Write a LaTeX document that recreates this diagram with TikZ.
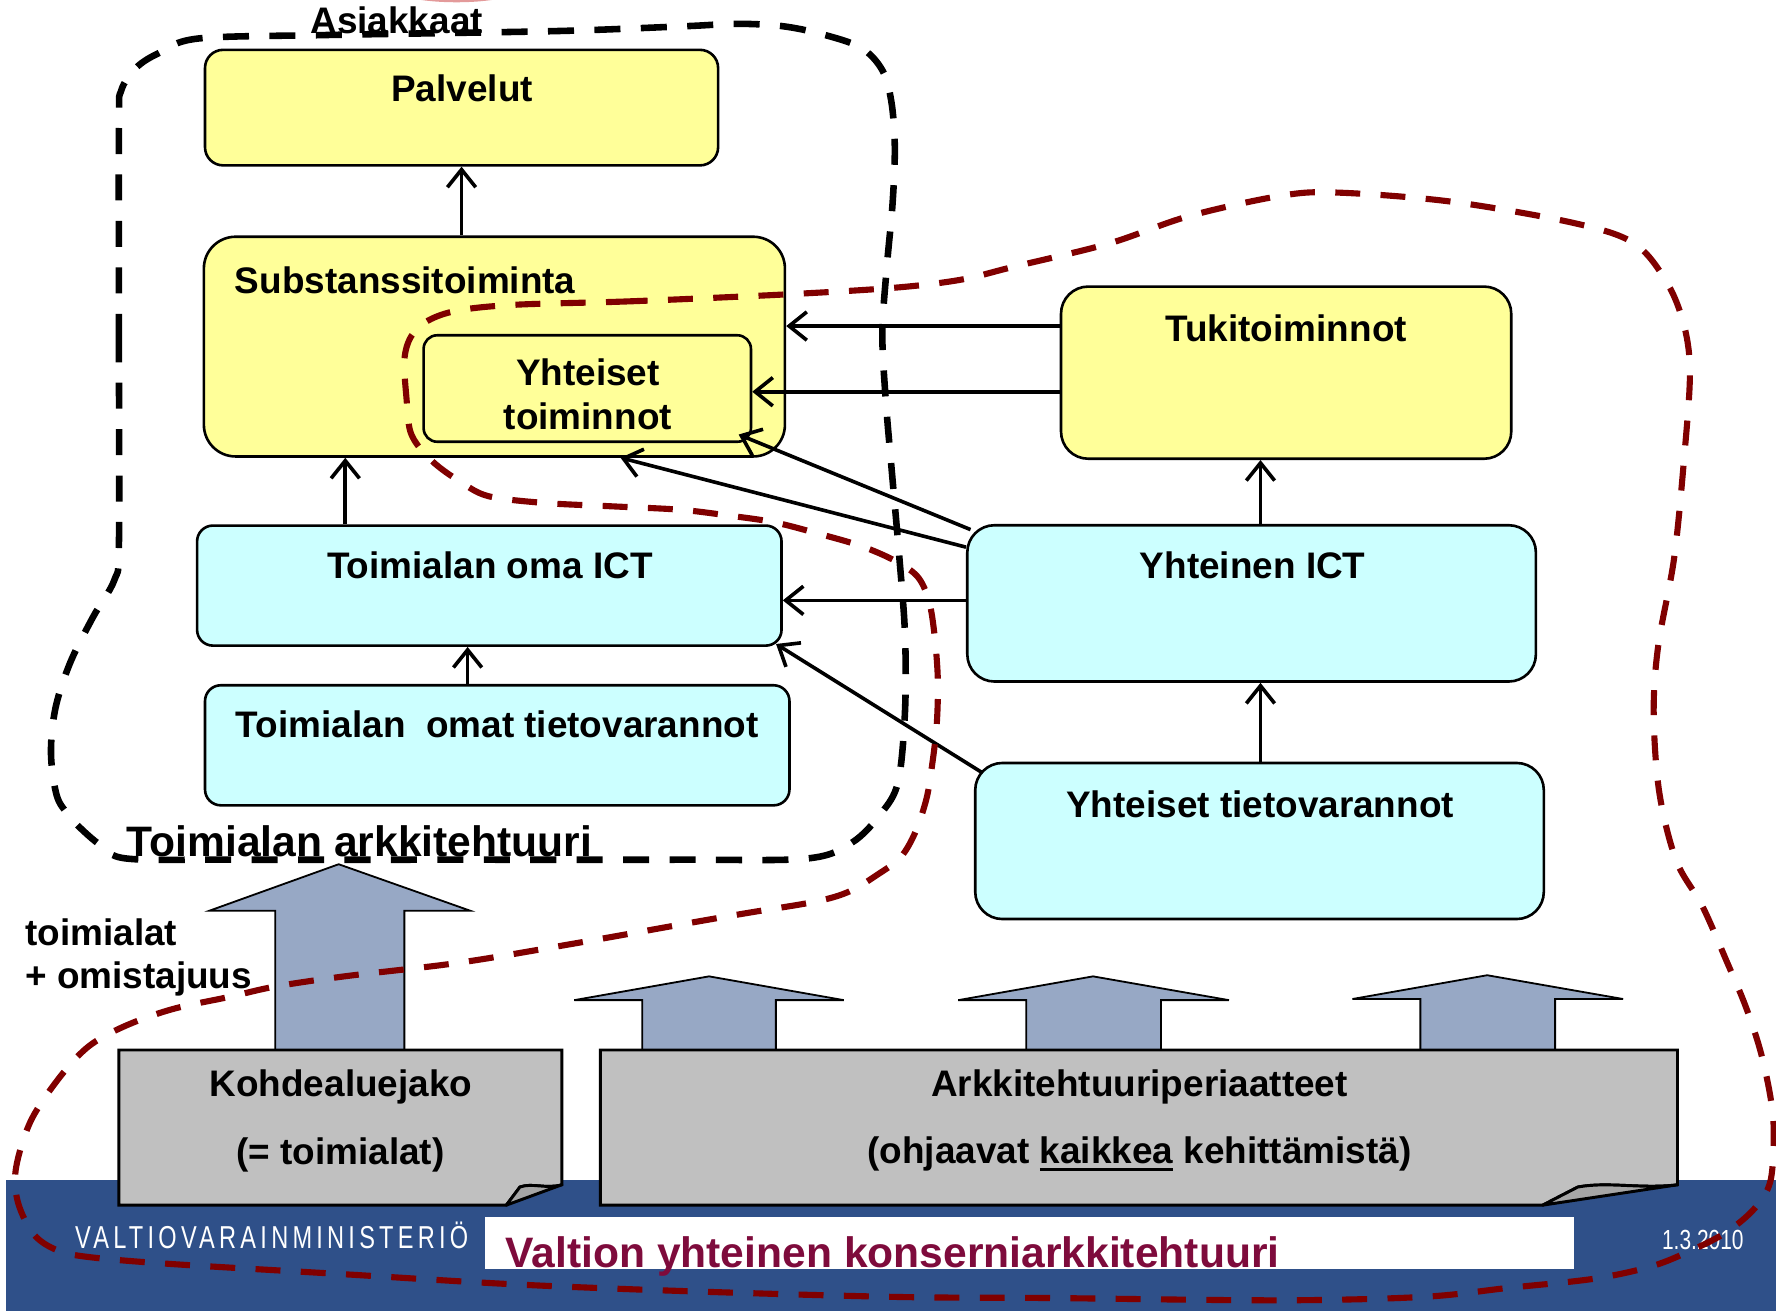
\documentclass[tikz,border=0pt]{standalone}
\usepackage{fontspec}
\usepackage{graphicx}
\setmainfont{Liberation Sans}
\usetikzlibrary{arrows.meta,calc}
\definecolor{yel}{HTML}{FFFF99}
\definecolor{cya}{HTML}{CCFFFF}
\definecolor{gry}{HTML}{C0C0C0}
\definecolor{foldgry}{HTML}{A6A6A6}
\definecolor{arrblue}{HTML}{97A8C5}
\definecolor{band}{HTML}{2F5089}
\definecolor{dred}{HTML}{800000}
\definecolor{titlered}{HTML}{7E0B3C}
\definecolor{blob}{HTML}{E39A9A}
\newcommand\ulthick[1]{\setbox0\hbox{#1}\rlap{\rule[-3.3pt]{\wd0}{1.2pt}}#1}
\tikzset{
  yelbox/.style={draw, line width=1.15pt, fill=yel, inner sep=0pt},
  cyabox/.style={draw, line width=1.15pt, fill=cya, inner sep=0pt},
  conn/.style={line width=1.6pt, -{Straight Barb[length=7.8pt, width=12.5pt]}},
  lbl/.style={font=\bfseries\fontsize{16.3}{19.6}\selectfont, inner sep=0pt, anchor=base},
  biglbl/.style={font=\bfseries\fontsize{18.8}{22.5}\selectfont, inner sep=0pt, anchor=base west},
  blkdash/.style={line width=2.9pt, dash pattern=on 11.5pt off 9pt},
  reddash/.style={draw=dred, line width=2.7pt, dash pattern=on 11pt off 9pt},
  barrow/.style={fill=arrblue, draw=black, line width=0.8pt},
  paper/.style={fill=gry, draw=black, line width=1.3pt},
  foldpart/.style={fill=foldgry, draw=black, line width=1.3pt, line join=round}
}
\begin{document}
\begin{tikzpicture}[x=0.5pt, y=-0.5pt]
\useasboundingbox (0,0) rectangle (1568,1157.4);

% faint pink shape at top edge
\fill[blob] (403,-10) ellipse [x radius=28pt, y radius=6pt];

% bottom band
\fill[band] (5,1042) rectangle (1568,1157.4);
\node[fill=white, inner sep=0pt, minimum width=481pt, minimum height=23pt] (titlebox) at (909,1097.5) {};

% block arrows
\draw[barrow] (243,927) -- (243,804) -- (185,804) -- (299,763) -- (415,804) -- (357,804) -- (357,927) -- cycle;
\draw[barrow] (567,927) -- (567,883) -- (507,883) -- (626,862) -- (745,883) -- (685,883) -- (685,927) -- cycle;
\draw[barrow] (906,927) -- (906,883) -- (846,883) -- (965,862) -- (1085,883) -- (1025,883) -- (1025,927) -- cycle;
\draw[barrow] (1254,927) -- (1254,882) -- (1194,882) -- (1313,861) -- (1433,882) -- (1373,882) -- (1373,927) -- cycle;

% paper boxes
\draw[paper] (105,927) -- (496,927) -- (496,1046) .. controls (482,1050) and (470,1044) .. (459,1048) -- (447,1064) -- (105,1064) -- cycle;
\draw[foldpart] (459,1048) -- (447,1064) -- (496,1046) .. controls (482,1050) and (470,1044) .. (459,1048) -- cycle;
\draw[paper] (530,927) -- (1481,927) -- (1481,1046) .. controls (1450,1050) and (1420,1043) .. (1393,1048) -- (1362,1064) -- (530,1064) -- cycle;
\draw[foldpart] (1393,1048) -- (1362,1064) -- (1481,1046) .. controls (1450,1050) and (1420,1043) .. (1393,1048) -- cycle;

% black dashed loop
\draw[blkdash] plot[smooth cycle, tension=0.55] coordinates {
 (105,480) (105,300) (105,110) (107,80) (120,60) (140,47) (175,34) (284,31) (405,29) (507,27)
 (608,23) (650,21) (690,23) (725,30) (760,42) (779,62) (787,90) (790,130) (788,180) (783,235)
 (779,294) (782,353) (787,412) (794,492) (799,560) (799,628) (793,690) (778,718) (752,744)
 (712,758) (600,759) (400,759) (200,759) (112,758) (90,747) (73,733) (60,719) (50,702)
 (45,665) (49,625) (62,585) (82,545) (101,512)};

% boxes
\node[yelbox, rounded corners=8pt, minimum width=226.5pt, minimum height=51pt] (palv) at (407.5,95) {};
\node[yelbox, rounded corners=14pt, minimum width=256.5pt, minimum height=97pt] (subst) at (436.5,306) {};
\node[yelbox, rounded corners=6pt, minimum width=144.5pt, minimum height=47pt] (yht) at (518.5,343) {};
\node[yelbox, rounded corners=12pt, minimum width=198.75pt, minimum height=76pt] (tuki) at (1135.5,329) {};
\node[cyabox, rounded corners=7pt, minimum width=258pt, minimum height=53pt] (toict) at (432,517) {};
\node[cyabox, rounded corners=7pt, minimum width=258pt, minimum height=53pt] (tvar) at (439,658) {};
\node[cyabox, rounded corners=12pt, minimum width=251pt, minimum height=69pt] (yict) at (1105,532.7) {};
\node[cyabox, rounded corners=12pt, minimum width=251pt, minimum height=68.9pt] (ytv) at (1112,742.5) {};

% connectors
\coordinate (a1) at ($(toict.north west)+(132,0)$);
\coordinate (a2) at ($(tvar.north west)+(233,0)$);
\coordinate (a3) at ($(tuki.north west)+(0,36)$);
\coordinate (a4) at ($(tuki.north west)+(0,94)$);
\coordinate (a5) at ($(yict.north west)+(260,0)$);
\coordinate (a6) at ($(ytv.north west)+(253,0)$);
\coordinate (a7) at ($(yict.north west)+(4,5)$);
\coordinate (a8) at ($(yict.north west)+(0,20.5)$);
\coordinate (a9) at ($(yict.north west)+(0,67.5)$);
\coordinate (a10) at ($(ytv.north west)+(7,9.5)$);
\draw[conn] (palv.south |- subst.north) -- (palv.south);
\draw[conn] (a1) -- (a1 |- subst.south);
\draw[conn] (a2) -- (a2 |- toict.south);
\draw[conn] (a3) -- (a3 -| subst.east);
\draw[conn] (a4) -- (a4 -| yht.east);
\draw[conn] (a5) -- (a5 |- tuki.south);
\draw[conn] (a6) -- (a6 |- yict.south);
\draw[conn] (a7) -- ($(yht.south east)+(-12,-7.5)$);
\draw[conn] (a8) -- ($(subst.south west)+(369,0)$);
\draw[conn] (a9) -- (a9 -| toict.east);
\draw[conn] (a10) -- ($(toict.south east)+(-6,-2.6)$);

% texts
\node[lbl] (t-palv) at (408,90) {Palvelut};
\node[lbl, anchor=base west] (t-subst) at (207,259) {Substanssitoiminta};
\node[lbl] (t-yht1) at (519,340) {Yhteiset};
\node[lbl] (t-yht2) at (519,379.6) {toiminnot};
\node[lbl] (t-tuki) at (1135.5,301.3) {Tukitoiminnot};
\node[lbl] (t-toict) at (432.5,510.5) {Toimialan oma ICT};
\node[lbl] (t-tvar) at (439,651.5) {Toimialan\ \ omat tietovarannot};
\node[lbl] (t-yict) at (1106,510.8) {Yhteinen ICT};
\node[lbl] (t-ytv) at (1112.5,721.6) {Yhteiset tietovarannot};
\node[lbl] (t-koh1) at (301,968) {Kohdealuejako};
\node[lbl] (t-koh2) at (300.5,1028) {(= toimialat)};
\node[lbl] (t-ark1) at (1006,968) {Arkkitehtuuriperiaatteet};
\node[lbl] (t-ark2) at (1006,1027) {(ohjaavat \ulthick{kaikkea} kehittämistä)};
\node[lbl, anchor=base west] (t-toim) at (22,834.5) {toimialat};
\node[lbl, anchor=base west] (t-omis) at (22,872.5) {+ omistajuus};
\node[lbl, anchor=base west] (t-asi) at (273.7,29.4) {Asiakkaat};
\node[biglbl] (t-tark) at (111.5,756) {Toimialan arkkitehtuuri};
\node[biglbl, text=titlered] (t-title) at (446,1119) {Valtion yhteinen konserniarkkitehtuuri};
\node[anchor=base west, inner sep=0pt, text=white] (t-vm) at (66,1102.7)
  {\resizebox{173.5pt}{\height}{\fontsize{14}{16}\selectfont\addfontfeature{LetterSpace=18}VALTIOVARAINMINISTERIÖ}};
\node[anchor=base west, inner sep=0pt, text=white] (t-date) at (1467,1103)
  {\resizebox{36pt}{\height}{\fontsize{12.2}{14}\selectfont 1.3.2010}};

% red dashed loop
\draw[reddash] plot[smooth cycle, tension=0.55] coordinates {
 (692,260) (557,266) (456,269) (405,274) (378,283) (363,297) (357,318) (359,353) (362,380)
 (371,396) (386,411) (406,425) (431,438) (480,444) (540,447) (600,450) (642,455) (683,461)
 (722,471) (760,482) (790,495) (810,509) (820,530) (825,560) (828,600) (827,640) (823,675)
 (818,705) (808,735) (795,757) (775,772) (750,787) (720,796) (660,806) (608,815) (507,833)
 (405,850) (304,862) (243,871) (203,880) (152,891) (110,906) (78,924) (52,952) (27,990)
 (14,1032) (16,1062) (30,1090) (51,1104) (80,1110) (152,1116) (304,1125) (456,1134)
 (608,1140) (790,1145) (928,1146) (1130,1148) (1256,1145) (1332,1137) (1407,1129)
 (1458,1118) (1493,1104) (1524,1088) (1549,1067) (1563,1043) (1566,1000) (1563,968)
 (1554,927) (1541,888) (1525,850) (1503,800) (1480,760) (1465,700) (1460,630) (1464,570)
 (1478,493) (1487,403) (1492,330) (1487,288) (1472,250) (1443,215) (1390,197) (1281,178)
 (1180,170) (1130,173) (1049,191) (979,215) (893,236) (848,247) (790,254)};
\end{tikzpicture}
\end{document}
